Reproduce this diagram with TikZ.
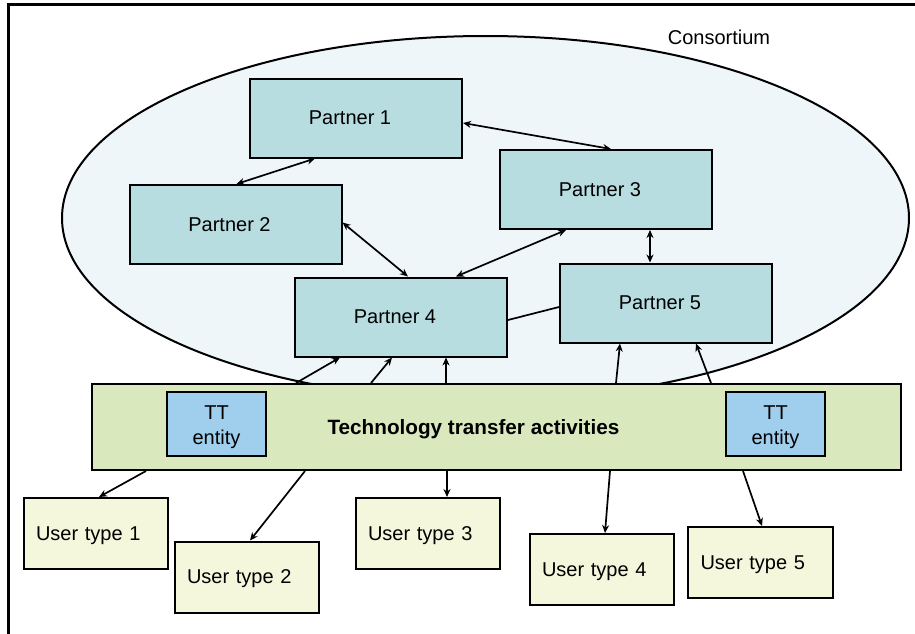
\documentclass[tikz,border=0pt]{standalone}
\usepackage{fontspec}
\setmainfont{Liberation Sans}
\usetikzlibrary{arrows.meta}
\definecolor{ellfill}{RGB}{238,246,250}
\definecolor{partfill}{RGB}{183,221,224}
\definecolor{ttafill}{RGB}{217,232,189}
\definecolor{entfill}{RGB}{160,206,237}
\definecolor{userfill}{RGB}{244,247,220}
\newcommand{\lowered}[2]{\raisebox{-#1}[\height][\depth]{#2}}
\begin{document}
\begin{tikzpicture}[x=1pt,y=-1pt,
 every node/.style={font=\fontsize{20}{26}\selectfont},
 box/.style={draw=black,line width=2pt,rectangle,inner sep=0pt},
 partner/.style={box,fill=partfill,minimum width=212pt,minimum height=79pt},
 user/.style={box,fill=userfill,minimum width=144pt,minimum height=71pt,text width=120pt,align=left,inner xsep=12pt},
 entity/.style={box,fill=entfill,minimum width=99pt,minimum height=64pt},
 link/.style={line width=1.7pt,{Stealth[length=8pt,width=7pt]}-{Stealth[length=8pt,width=7pt]}},
 flow/.style={line width=1.7pt,-{Stealth[length=8pt,width=7pt]}}]
\useasboundingbox (0,0) rectangle (915,634);
% frame
\draw[line width=3pt] (8,634) -- (8,5) -- (916,5);
% consortium
\draw[line width=2pt,fill=ellfill] (485.5,218) ellipse [x radius=423.5pt, y radius=182pt];
\node (cons) at (719,37) {Consortium};
% partners
\node[partner] (p1) at (356,118) {Partner 1\kern12pt};
\node[partner] (p2) at (235.5,224.5) {Partner 2\kern12pt};
\node[partner] (p3) at (606,189.5) {Partner 3\kern12pt};
\node[partner] (p4) at (401,317) {Partner 4\kern12pt};
\node[partner] (p5) at (666,303) {Partner 5\kern12pt};
% technology transfer
\node[box,fill=ttafill,minimum width=809pt,minimum height=86pt] (tta) at (496.5,427) {};
\node[font=\fontsize{20.7}{26}\selectfont\bfseries] (ttl) at (473.5,429) {Technology transfer activities};
\node[entity] (e1) at (216.5,424) {\lowered{3pt}{\begin{tabular}{@{}c@{}}TT\\[-1pt]entity\end{tabular}}};
\node[entity] (e2) at (775.5,424) {\lowered{3pt}{\begin{tabular}{@{}c@{}}TT\\[-1pt]entity\end{tabular}}};
% users
\node[user] (u1) at (96,533.5) {\lowered{2pt}{User type 1}};
\node[user] (u2) at (247,577) {\lowered{2pt}{User type 2}};
\node[user] (u3) at (428,533.5) {\lowered{2pt}{User type 3}};
\node[user] (u4) at (602,569.5) {\lowered{2pt}{User type 4}};
\node[user,minimum width=145pt] (u5) at (760.5,562.5) {\lowered{2pt}{User type 5}};
% partner links
\draw[link] ([xshift=66pt]p1.south west) -- ([xshift=108pt]p2.north west);
\draw[link] ([yshift=-5pt]p1.east) -- ([xshift=112pt]p3.north west);
\draw[link] ([yshift=2pt]p2.east) -- ([xshift=114pt]p4.north west);
\draw[link] ([xshift=67pt]p3.south west) -- ([xshift=162pt]p4.north west);
\draw[link,line width=2.2pt] ([xshift=151pt]p3.south west) -- ([xshift=91pt]p5.north west);
\draw[line width=1.7pt] ([yshift=-3pt]p4.east) -- ([yshift=-4pt]p5.west);
% tta to partners
\draw[flow] ([xshift=205pt]tta.north west) -- ([xshift=46pt]p4.south west);
\draw[flow] ([xshift=280pt]tta.north west) -- ([xshift=98pt]p4.south west);
\draw[flow] ([xshift=355pt]tta.north west) -- ([xshift=152pt]p4.south west);
\draw[flow] ([xshift=525pt]tta.north west) -- ([xshift=61pt]p5.south west);
\draw[flow] ([xshift=620pt]tta.north west) -- ([xshift=137pt]p5.south west);
% tta to users
\draw[flow] ([xshift=55pt]tta.south west) -- ([xshift=76pt]u1.north west);
\draw[flow] ([xshift=214pt]tta.south west) -- ([xshift=76pt]u2.north west);
\draw[flow] ([xshift=356pt]tta.south west) -- ([xshift=92pt]u3.north west);
\draw[flow] ([xshift=519pt]tta.south west) -- ([xshift=76pt]u4.north west);
\draw[flow] ([xshift=652pt]tta.south west) -- ([xshift=75pt]u5.north west);
\end{tikzpicture}
\end{document}
